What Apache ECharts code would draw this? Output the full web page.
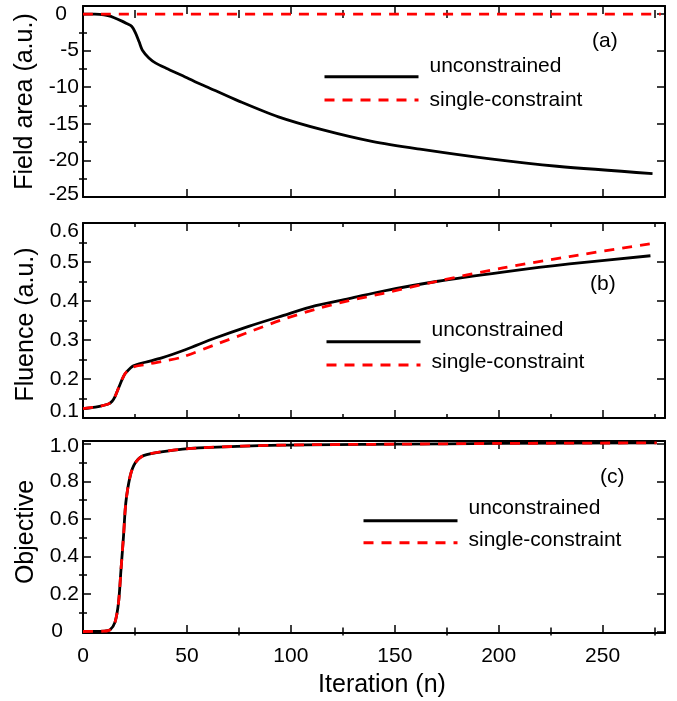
<!DOCTYPE html>
<html><head><meta charset="utf-8">
<script src="https://cdn.jsdelivr.net/npm/echarts@6/dist/echarts.min.js"></script>
<style>html,body{margin:0;padding:0;background:#fff}#c{width:677px;height:701px}</style>
</head><body><div id="c"></div>
<script>
// ---------- data ----------
const iterFieldUnc = [0, 5, 8, 12, 15, 19, 21, 23.5, 25.3, 27, 28.5, 31.7, 35, 40, 50, 55, 60, 75, 94, 115, 139, 163, 196, 228, 274];
const fieldUnc     = [0, -0.02, -0.05, -0.23, -0.5, -1.0, -1.3, -1.7, -2.6, -3.8, -4.9, -6.0, -6.7, -7.4, -8.7, -9.4, -10.0, -11.9, -14.05, -15.8, -17.4, -18.5, -19.8, -20.8, -21.8];
const iterFieldSingle = [0, 50, 100, 150, 200, 250, 278];
const fieldSingle     = [0, 0, 0, 0, 0, 0, 0];

const iterFluenceUnc = [0, 6, 12.2, 14, 15.4, 17.1, 19.5, 21.1, 24.3, 30, 37.9, 49.2, 63.6, 79.7, 95.8, 111.9, 128, 144, 170, 202, 234, 273];
const fluenceUnc     = [0.124, 0.128, 0.136, 0.143, 0.155, 0.177, 0.207, 0.219, 0.234, 0.243, 0.254, 0.275, 0.305, 0.335, 0.362, 0.388, 0.406, 0.425, 0.450, 0.474, 0.495, 0.516];
const iterFluenceSingle = [0, 6, 12.2, 14, 15.4, 17.1, 19.5, 21.1, 24.3, 30, 37.9, 47.6, 63.6, 79.7, 95.8, 111.9, 128, 144, 170, 202, 234, 273];
const fluenceSingle     = [0.124, 0.128, 0.136, 0.143, 0.155, 0.177, 0.207, 0.219, 0.231, 0.237, 0.245, 0.256, 0.288, 0.320, 0.352, 0.379, 0.401, 0.419, 0.450, 0.485, 0.514, 0.547];

const iterObjective   = [0, 10, 13, 15.4, 17.1, 18.3, 19.5, 20.6, 22.7, 25.1, 29.1, 39.5, 55.6, 95.8, 150, 200, 276];
const objectiveUnc    = [0, 0.002, 0.009, 0.05, 0.155, 0.333, 0.509, 0.686, 0.828, 0.898, 0.937, 0.960, 0.978, 0.993, 0.998, 1.002, 1.005];
const objectiveSingle = [0, 0.002, 0.009, 0.05, 0.155, 0.333, 0.509, 0.686, 0.828, 0.898, 0.937, 0.960, 0.978, 0.993, 0.998, 1.002, 1.005];

const xMajorTicks = [0, 50, 100, 150, 200, 250];
const xMinorTicks = [25, 75, 125, 175, 225, 275];
const xTickLabels = ['0', '50', '100', '150', '200', '250'];

const yTicksA  = [-25, -20, -15, -10, -5, 0];
const yLabelsA = ['-25', '-20', '-15', '-10', '-5', '0'];
const yMinorA  = [-22.5, -17.5, -12.5, -7.5, -2.5];
const yTicksB  = [0.1, 0.2, 0.3, 0.4, 0.5, 0.6];
const yLabelsB = ['0.1', '0.2', '0.3', '0.4', '0.5', '0.6'];
const yMinorB  = [0.15, 0.25, 0.35, 0.45, 0.55];
const yTicksC  = [0, 0.2, 0.4, 0.6, 0.8, 1.0];
const yLabelsC = ['0', '0.2', '0.4', '0.6', '0.8', '1.0'];
const yMinorC  = [0.1, 0.3, 0.5, 0.7, 0.9];

const seriesNames = ['unconstrained', 'single-constraint'];
const panelTags = ['(a)', '(b)', '(c)'];
const yTitles = ['Field area (a.u.)', 'Fluence (a.u.)', 'Objective'];
const xTitle = 'Iteration (n)';

// ---------- layout / style ----------
const FONT = "'Liberation Sans', Arial, sans-serif";
const grids = [{top: 6, height: 191}, {top: 223, height: 195}, {top: 441, height: 192}];
const yRanges = [[-25, 1.1], [0.1, 0.6], [-0.008, 1.015]];
const xRange = [0, 280];
const yTicks = [yTicksA, yTicksB, yTicksC];
const yLabels = [yLabelsA, yLabelsB, yLabelsC];
const yMinor = [yMinorA, yMinorB, yMinorC];
const yTitlePadding = [[0, 0, 0, 0], [0, 8, 0, 0], [0, 0, 0, 10]];
const labelTweak = [
  {0: 'b', 5: 'z'},
  {0: 'b', 5: 't'},
  {0: 'z', 5: 't'}
];
const richPerPanel = [
  {z: {padding: [0, 12, 0, 0]}, b: {padding: [0, 0, 6, 0]}, t: {}},
  {z: {}, b: {padding: [0, 0, 13, 0]}, t: {padding: [16, 0, 0, 0]}},
  {z: {padding: [0, 16, 0, 0]}, b: {}, t: {padding: [5, 0, 0, 0]}}
];
richPerPanel.forEach(r => Object.values(r).forEach(s => { s.fontSize = 21; s.fontFamily = FONT; s.color = '#000'; }));

const zip = (xs, ys) => xs.map((x, i) => [x, ys[i]]);
const lineAxis = {show: true, onZero: false, lineStyle: {color: '#000', width: 2}};

const allGrids = [];
const xAxes = [];
const yAxes = [];
for (let layer = 0; layer < 2; layer++) {
  grids.forEach((g, gi) => {
    allGrids.push({left: 83, width: 582, top: g.top, height: g.height, containLabel: false, outerBoundsMode: 'none'});
    const gIndex = layer * 3 + gi;
    const major = layer === 0;
    ['bottom', 'top'].forEach(pos => {
      const ax = {
        type: 'value', gridIndex: gIndex, position: pos, min: xRange[0], max: xRange[1],
        axisLine: major ? lineAxis : {show: false},
        splitLine: {show: false},
        axisTick: {show: true, inside: true, length: major ? 8 : 4, customValues: major ? xMajorTicks : xMinorTicks,
                   lineStyle: {color: '#000', width: 1.5}},
        axisLabel: {show: false}
      };
      if (major && pos === 'bottom' && gi === 2) {
        ax.axisLabel = {show: true, customValues: xMajorTicks, margin: 13, fontSize: 21, color: '#000', fontFamily: FONT,
          formatter: v => { const i = xMajorTicks.findIndex(t => Math.abs(t - v) < 1e-6); return i >= 0 ? xTickLabels[i] : ''; }};
        ax.name = xTitle;
        ax.nameLocation = 'middle';
        ax.nameGap = 40;
        ax.nameTextStyle = {fontSize: 25, color: '#000', fontFamily: FONT, padding: [0, 0, 0, 16]};
      }
      xAxes.push(ax);
    });
    ['left', 'right'].forEach(pos => {
      const ay = {
        type: 'value', gridIndex: gIndex, position: pos, min: yRanges[gi][0], max: yRanges[gi][1],
        axisLine: major ? lineAxis : {show: false},
        splitLine: {show: false},
        axisTick: {show: true, inside: true, length: major ? 8 : 4, customValues: major ? yTicks[gi] : yMinor[gi],
                   lineStyle: {color: '#000', width: 1.5}},
        axisLabel: {show: false}
      };
      if (major && pos === 'left') {
        ay.axisLabel = {show: true, customValues: yTicks[gi], margin: 4, fontSize: 21, color: '#000', fontFamily: FONT,
          rich: richPerPanel[gi],
          formatter: v => {
            const i = yTicks[gi].findIndex(t => Math.abs(t - v) < 1e-6);
            if (i < 0) return '';
            const k = labelTweak[gi][i];
            return k ? '{' + k + '|' + yLabels[gi][i] + '}' : yLabels[gi][i];
          }};
        ay.name = yTitles[gi];
        ay.nameLocation = 'middle';
        ay.nameGap = 41;
        ay.nameTextStyle = {fontSize: 25, color: '#000', fontFamily: FONT, padding: yTitlePadding[gi]};
      }
      yAxes.push(ay);
    });
  });
}

const seriesData = [
  [zip(iterFieldUnc, fieldUnc), zip(iterFieldSingle, fieldSingle)],
  [zip(iterFluenceUnc, fluenceUnc), zip(iterFluenceSingle, fluenceSingle)],
  [zip(iterObjective, objectiveUnc), zip(iterObjective, objectiveSingle)]
];
const series = [];
seriesData.forEach((pair, gi) => {
  series.push({name: seriesNames[0], type: 'line', xAxisIndex: gi * 2, yAxisIndex: gi * 2, data: pair[0],
    symbol: 'none', smooth: 0.3, z: 2,
    lineStyle: {color: '#000', width: 2.8}, itemStyle: {color: '#000'}});
  series.push({name: seriesNames[1], type: 'line', xAxisIndex: gi * 2, yAxisIndex: gi * 2, data: pair[1],
    symbol: 'none', smooth: 0.3, z: 3,
    lineStyle: {color: '#ff0000', width: 2.8, type: [10, 8]}, itemStyle: {color: '#ff0000'}});
});

// legend geometry: [lineLeft, lineY(black), textRaiseBlack, lineY(red), textRaiseRed]
const legendPos = [[323, 76.7, 20, 100, 0], [325, 341.7, 23, 365, 6], [362, 520.7, 24, 542.7, 5]];
const legends = [];
legendPos.forEach(p => {
  [0, 1].forEach(k => {
    const lineY = k === 0 ? p[1] : p[3];
    const pb = k === 0 ? p[2] : p[4];
    const off = Math.max(7, (21 + pb) / 2);
    legends.push({
      show: true, left: p[0], top: lineY - off, orient: 'horizontal', padding: 0,
      itemWidth: 94, itemHeight: 14, selectedMode: false,
      data: [seriesNames[k]],
      formatter: '{a|{name}}',
      textStyle: {fontSize: 21, color: '#000', fontFamily: FONT,
        rich: {a: {fontSize: 21, color: '#000', fontFamily: FONT, padding: [0, 0, pb, 6]}}},
      itemStyle: {color: 'rgba(0,0,0,0)', borderWidth: 0},
      lineStyle: {width: 3}
    });
  });
});

const tagPos = [[592, 31], [590, 274], [600, 467]];
const titles = panelTags.map((t, i) => ({text: t, left: tagPos[i][0], top: tagPos[i][1], padding: 0,
  textStyle: {fontSize: 21, fontWeight: 'normal', color: '#000', fontFamily: FONT}}));

const chart = echarts.init(document.getElementById('c'), null, {renderer: 'canvas'});
chart.setOption({
  animation: false,
  backgroundColor: '#fff',
  title: titles,
  legend: legends,
  grid: allGrids,
  xAxis: xAxes,
  yAxis: yAxes,
  series: series
});
</script>
</body></html>
